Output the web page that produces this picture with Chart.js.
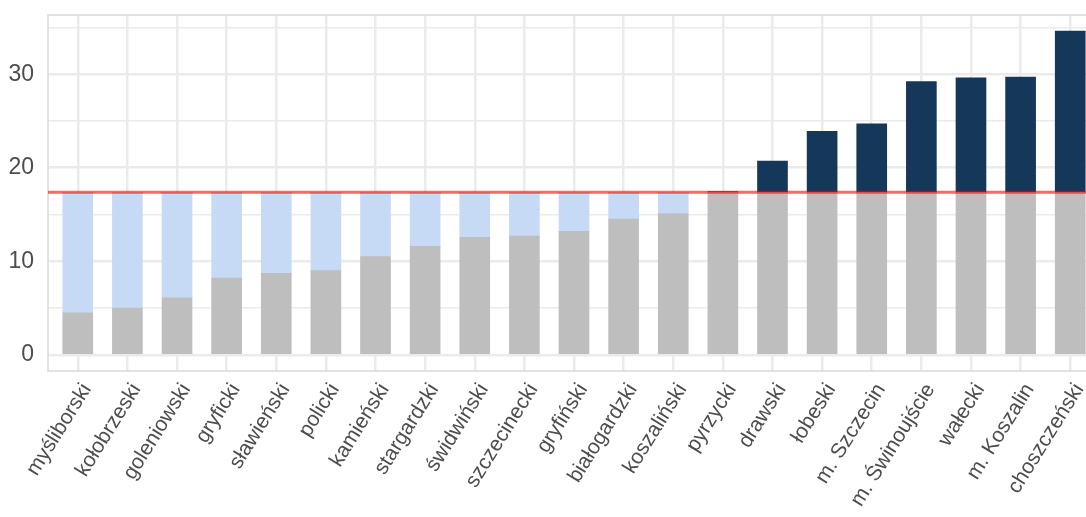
<!DOCTYPE html>
<html>
<head>
<meta charset="utf-8">
<script src="https://cdn.jsdelivr.net/npm/chart.js@4"></script>
<style>
  html, body { margin:0; padding:0; background:#fff; overflow:hidden; }
  canvas { display:block; }
</style>
</head>
<body>
<canvas id="c" width="1100" height="517"></canvas>
<script>
"use strict";
const CATS = ["myśliborski","kołobrzeski","goleniowski","gryficki","sławieński","policki","kamieński",
  "stargardzki","świdwiński","szczecinecki","gryfiński","białogardzki","koszaliński","pyrzycki",
  "drawski","łobeski","m. Szczecin","m. Świnoujście","wałecki","m. Koszalin","choszczeński"];
const VALUES = [4.5,5.0,6.1,8.2,8.7,9.0,10.5,11.6,12.55,12.7,13.2,14.5,15.1,17.45,
  20.7,23.9,24.7,29.2,29.6,29.7,34.6];
const THRESHOLD = 17.37;
const Y_LABELS = [0,10,20,30];
const Y_GRID = [0,5,10,15,20,25,30,35];

const GRAY  = "#bebebe";
const LBLUE = "#c6daf6";
const NAVY  = "#15375a";
const RED   = "rgba(255,0,0,0.6)";
const TXT   = "#4d4d4d";
const GRID  = "#ebebeb";
const FONT  = "'Liberation Sans', Arial, sans-serif";

const base  = VALUES.map(v => Math.min(v, THRESHOLD));
const below = VALUES.map(v => Math.max(THRESHOLD - v, 0));
const above = VALUES.map(v => Math.max(v - THRESHOLD, 0));
const pts = arr => arr.map((v,i) => ({ x:i, y:v }));

// red reference line drawn over bars
const refLine = {
  id: "refLine",
  afterDatasetsDraw(chart) {
    const { ctx, chartArea:a, scales:{ y } } = chart;
    const py = y.getPixelForValue(THRESHOLD);
    ctx.save();
    ctx.strokeStyle = RED; ctx.lineWidth = 3;
    ctx.beginPath(); ctx.moveTo(a.left, py); ctx.lineTo(a.right, py); ctx.stroke();
    ctx.restore();
  }
};

// panel border
const panel = {
  id: "panel",
  beforeDatasetsDraw(chart) {
    const { ctx, chartArea:a } = chart;
    ctx.save();
    ctx.strokeStyle = "#d9d9d9"; ctx.lineWidth = 1.5;
    ctx.strokeRect(a.left, a.top, a.right - a.left, a.bottom - a.top);
    ctx.restore();
  }
};

new Chart(document.getElementById("c"), {
  type: "bar",
  data: {
    datasets: [
      { data: pts(base),  backgroundColor: GRAY },
      { data: pts(below), backgroundColor: LBLUE },
      { data: pts(above), backgroundColor: NAVY },
    ]
  },
  options: {
    responsive: false, animation: false,
    layout: { padding: { top: 15, left: 0, right: 0, bottom: 0 } },
    datasets: { bar: { barThickness: 30, grouped: false } },
    plugins: { legend: { display:false }, tooltip: { enabled:false } },
    scales: {
      x: {
        type: "linear", stacked: true, min: -0.6, max: 20.6, offset: false,
        afterBuildTicks: s => { s.ticks = CATS.map((_,i) => ({ value:i })); },
        afterFit: s => { s.height = 146; s.paddingLeft = 0; s.paddingRight = 0; },
        border: { display:false },
        grid: { color: GRID, lineWidth: 2.5, drawTicks: false, offset: false },
        ticks: {
          autoSkip: false, maxRotation: 58, minRotation: 58, padding: 8, labelOffset: 9,
          color: TXT, font: { family: FONT, size: 21 },
          callback: v => CATS[v]
        }
      },
      y: {
        stacked: true, min: -1.73, max: 36.33,
        afterBuildTicks: s => { s.ticks = Y_GRID.map(v => ({ value:v })); },
        afterFit: s => { s.width = 48; s.paddingTop = 0; s.paddingBottom = 0; },
        border: { display:false },
        grid: {
          drawTicks: false,
          color: GRID,
          lineWidth: c => Y_LABELS.includes(c.tick.value) ? 2.5 : 1.5
        },
        ticks: {
          padding: 14, color: TXT,
          font: { family: FONT, size: 23 },
          callback: v => Y_LABELS.includes(v) ? String(v) : ""
        }
      }
    }
  },
  plugins: [panel, refLine]
});
</script>
</body>
</html>
